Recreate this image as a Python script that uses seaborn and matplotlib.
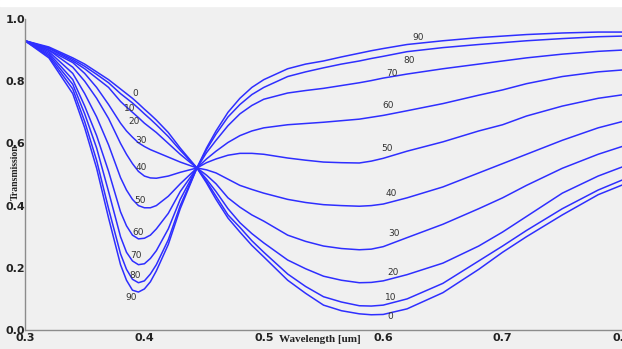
import matplotlib
matplotlib.use('Agg')
import matplotlib.pyplot as plt
from matplotlib.patches import Rectangle
from matplotlib.ticker import MultipleLocator, FormatStrFormatter
import pandas as pd
import seaborn as sns

# incidence angles (deg) of the ten curves
angles = [0, 10, 20, 30, 40, 50, 60, 70, 80, 90]

wavelength = [0.30, 0.32, 0.34, 0.35, 0.36, 0.37, 0.38, 0.385, 0.39, 0.395,
              0.40, 0.405, 0.41, 0.42, 0.43, 0.444, 0.452, 0.46, 0.47, 0.48,
              0.49, 0.50, 0.52, 0.535, 0.55, 0.565, 0.58, 0.59, 0.60, 0.62,
              0.65, 0.68, 0.70, 0.72, 0.75, 0.78, 0.80]

t_0 = [.93, .91, .875, .855, .83, .805, .775, .76, .745, .728, .71, .693, .675, .635, .585, .521,
       .473, .42, .36, .315, .272, .235, .16, .118, .08, .062, .052, .049, .05, .068, .12,
       .195, .25, .30, .37, .435, .466]
t_10 = [.93, .907, .87, .848, .822, .795, .76, .745, .73, .713, .695, .678, .66, .622, .578, .521,
        .478, .43, .37, .33, .287, .25, .18, .14, .107, .09, .078, .077, .08, .10, .15,
        .222, .27, .32, .39, .45, .482]
t_20 = [.93, .905, .865, .84, .81, .78, .735, .717, .70, .683, .665, .65, .635, .60, .565, .521,
        .485, .445, .39, .345, .31, .28, .225, .197, .173, .16, .152, .153, .158, .178, .215,
        .27, .315, .365, .44, .495, .524]
t_30 = [.93, .90, .86, .825, .78, .725, .665, .64, .62, .602, .59, .58, .572, .556, .54, .521,
        .498, .47, .425, .395, .37, .35, .305, .285, .27, .262, .258, .26, .268, .297, .34,
        .39, .425, .465, .52, .565, .59]
t_40 = [.93, .90, .845, .80, .745, .68, .60, .565, .535, .51, .495, .489, .488, .495, .507, .521,
        .515, .505, .485, .465, .452, .44, .42, .41, .403, .40, .398, .40, .405, .425, .46,
        .505, .535, .565, .61, .65, .67]
t_50 = [.93, .895, .825, .76, .685, .595, .49, .45, .42, .40, .393, .393, .40, .43, .47, .521,
        .538, .55, .562, .568, .568, .565, .553, .546, .54, .538, .537, .543, .552, .575, .605,
        .64, .66, .688, .72, .745, .756]
t_60 = [.93, .89, .805, .72, .625, .51, .38, .335, .305, .293, .295, .305, .325, .375, .445, .521,
        .55, .575, .603, .625, .64, .65, .66, .664, .668, .673, .678, .684, .69, .705, .728,
        .755, .772, .792, .815, .83, .836]
t_70 = [.93, .885, .79, .695, .585, .445, .30, .25, .222, .21, .213, .23, .255, .325, .42, .521,
        .57, .61, .657, .695, .722, .742, .762, .77, .777, .786, .795, .802, .81, .823, .84,
        .855, .865, .875, .887, .896, .90]
t_80 = [.93, .88, .775, .67, .545, .39, .245, .195, .163, .152, .158, .18, .21, .29, .40, .521,
        .58, .63, .685, .725, .757, .78, .815, .83, .843, .855, .865, .873, .88, .895, .908,
        .918, .924, .93, .937, .943, .945]
t_90 = [.93, .875, .76, .65, .52, .36, .21, .16, .128, .122, .132, .155, .19, .275, .39, .521,
        .585, .64, .70, .745, .78, .805, .84, .855, .865, .878, .89, .898, .905, .918, .93,
        .94, .945, .95, .955, .958, .958]

curves = [t_0, t_10, t_20, t_30, t_40, t_50, t_60, t_70, t_80, t_90]

# where the angle labels sit (data coords), left dip and right branch
left_lab_x = [.392, .388, .391, .397, .397, .396, .395, .393, .392, .389]
left_lab_y = [.762, .711, .672, .608, .521, .415, .312, .238, .174, .103]
right_lab_x = [.606, .606, .608, .609, .607, .603, .604, .607, .622, .629]
right_lab_y = [.045, .106, .186, .309, .44, .585, .723, .826, .868, .94]


def build_frame():
    rows = []
    for ang, vals in zip(angles, curves):
        for x, y in zip(wavelength, vals):
            rows.append({'wavelength': x, 'transmission': y, 'angle': ang})
    return pd.DataFrame(rows)


def main():
    sns.set_theme(style='white')
    plt.rcParams['font.family'] = ['DejaVu Sans']
    bg = '#f0f0f0'
    blue = '#2e2eff'

    df = build_frame()
    fig = plt.figure(figsize=(6.22, 3.49), dpi=100, facecolor=bg)
    ax = fig.add_axes([25 / 622, 19 / 349, 597 / 622, 311 / 349])
    ax.set_facecolor(bg)
    fig.patches.append(Rectangle((0, 1 - 6 / 349), 1, 6 / 349,
                                 transform=fig.transFigure, color='white', zorder=0))

    sns.lineplot(data=df, x='wavelength', y='transmission', hue='angle',
                 palette={a: blue for a in angles}, estimator=None, sort=False,
                 legend=False, linewidth=1.1, ax=ax)

    for ang, x, y in zip(angles, left_lab_x, left_lab_y):
        ax.text(x, y, str(ang), fontsize=6.5, color='#333333', ha='center', va='center')
    for ang, x, y in zip(angles, right_lab_x, right_lab_y):
        ax.text(x, y, str(ang), fontsize=6.5, color='#333333', ha='center', va='center')

    ax.set_xlim(0.3, 0.8)
    ax.set_ylim(0.0, 1.0)
    ax.xaxis.set_major_locator(MultipleLocator(0.1))
    ax.xaxis.set_minor_locator(MultipleLocator(0.02))
    ax.yaxis.set_major_locator(MultipleLocator(0.2))
    ax.yaxis.set_minor_locator(MultipleLocator(0.04))
    ax.xaxis.set_major_formatter(FormatStrFormatter('%.1f'))
    ax.yaxis.set_major_formatter(FormatStrFormatter('%.1f'))

    for s in ['top', 'right']:
        ax.spines[s].set_visible(False)
    for s in ['left', 'bottom']:
        ax.spines[s].set_color('#8c8c8c')
        ax.spines[s].set_linewidth(1.0)

    ax.tick_params(axis='both', which='major', direction='in', length=3,
                   color='#8c8c8c', labelsize=8, labelcolor='#222222', pad=2)
    ax.tick_params(axis='both', which='minor', direction='in', length=2,
                   color='#a0a0a0')
    ax.tick_params(axis='y', which='major', pad=0)
    for lab in ax.get_xticklabels() + ax.get_yticklabels():
        lab.set_fontweight('bold')

    ax.set_xlabel('')
    ax.set_ylabel('')
    fig.text(15 / 622, 1 - 172 / 349, 'Transmission', rotation=90,
             family='Liberation Serif', fontweight='bold', fontsize=7,
             color='#222222', ha='center', va='center')
    fig.text(320 / 622, 1 - 340 / 349, 'Wavelength [um]',
             family='Liberation Serif', fontweight='bold', fontsize=8,
             color='#222222', ha='center', va='center')

    fig.savefig('out.png', dpi=100, facecolor=bg)


if __name__ == '__main__':
    main()
